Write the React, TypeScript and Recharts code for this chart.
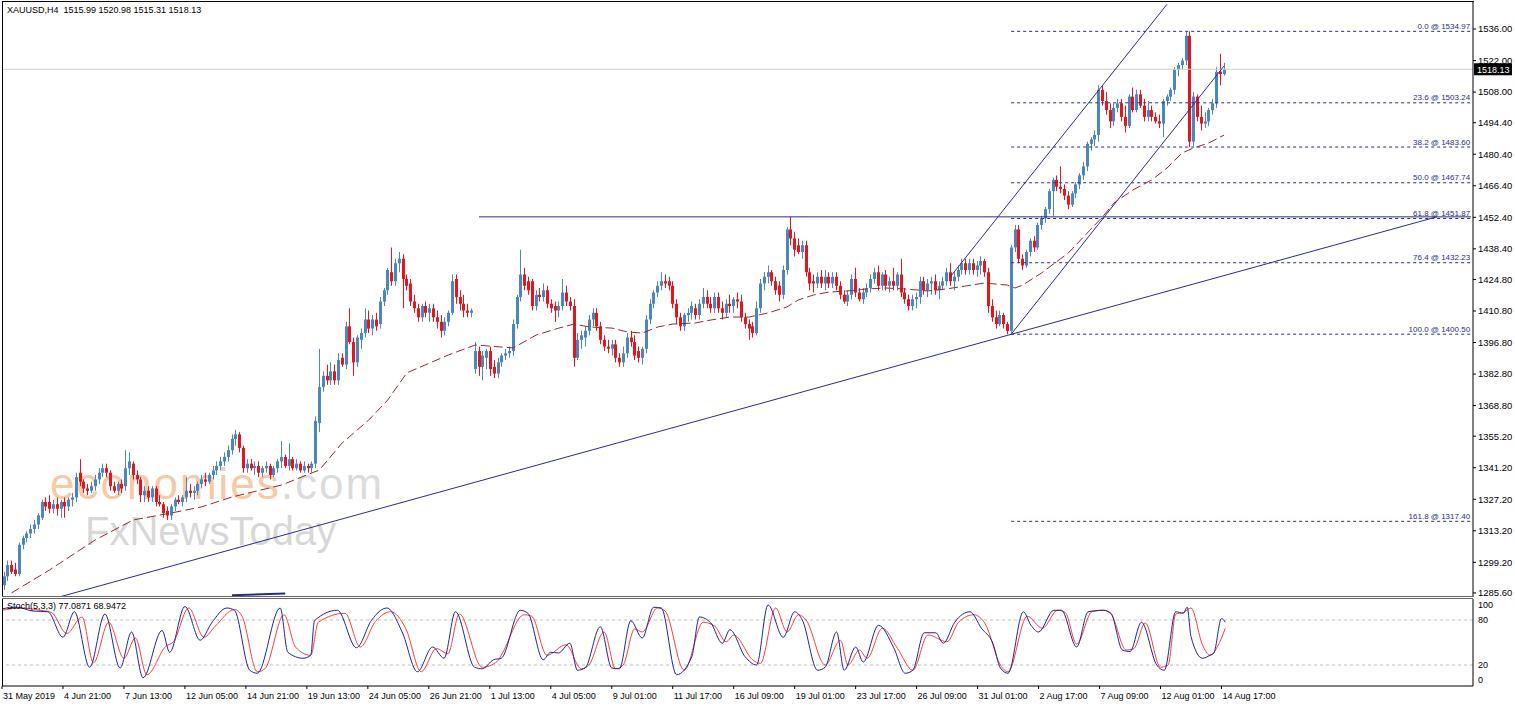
import React from 'react';
import { ComposedChart, Bar, Line, XAxis, YAxis, ReferenceLine } from 'recharts';

// H4 bars, [open, high, low, close]
const candles: number[][] = [
  [1289,1295,1287,1293],[1293,1300,1291,1298],[1298,1300,1294,1295],[1296,1299,1293,1294],[1294,1308,1293,1307],
  [1307,1311,1305,1310],[1310,1313,1308,1312],[1312,1316,1310,1314],[1314,1318,1312,1316],[1316,1321,1314,1320],
  [1319,1327,1318,1326],[1326,1328,1322,1324],[1326,1329,1321,1323],[1323,1327,1321,1325],[1325,1328,1320,1323],
  [1323,1327,1319,1326],[1326,1328,1319,1324],[1324,1328,1322,1327],[1327,1330,1324,1328],[1328,1339,1326,1337],
  [1339,1345,1333,1335],[1335,1336,1330,1332],[1332,1334,1329,1331],[1331,1335,1330,1333],[1333,1338,1331,1336],
  [1336,1341,1334,1339],[1339,1343,1337,1341],[1341,1343,1337,1339],[1339,1340,1331,1333],[1333,1335,1330,1331],
  [1331,1335,1329,1334],[1334,1336,1330,1332],[1333,1349,1331,1341],[1341,1348,1338,1344],[1343,1344,1336,1338],
  [1338,1340,1334,1336],[1336,1337,1326,1329],[1329,1333,1326,1331],[1331,1333,1326,1328],[1328,1333,1326,1332],
  [1332,1333,1324,1326],[1326,1329,1324,1325],[1325,1326,1319,1321],[1322,1324,1318,1320],[1320,1325,1318,1324],
  [1324,1328,1322,1327],[1327,1329,1325,1326],[1326,1329,1324,1328],[1328,1337,1326,1331],[1331,1334,1328,1330],
  [1330,1333,1327,1331],[1331,1335,1329,1334],[1334,1338,1332,1336],[1336,1339,1333,1335],[1335,1339,1334,1338],
  [1338,1342,1336,1340],[1340,1344,1338,1342],[1342,1346,1340,1344],[1344,1348,1342,1346],[1346,1351,1344,1349],
  [1349,1356,1347,1354],[1354,1358,1351,1356],[1356,1357,1348,1350],[1350,1351,1339,1341],[1341,1345,1339,1343],
  [1343,1345,1340,1341],[1341,1344,1338,1342],[1342,1344,1337,1339],[1339,1342,1337,1341],[1341,1344,1339,1342],
  [1342,1343,1336,1338],[1338,1342,1337,1341],[1341,1345,1339,1344],[1344,1353,1341,1346],[1346,1347,1341,1342],
  [1342,1352,1340,1345],[1345,1346,1340,1341],[1341,1345,1340,1343],[1343,1344,1339,1340],[1340,1344,1339,1342],
  [1342,1343,1339,1341],[1341,1344,1339,1343],[1343,1364,1341,1362],[1361,1394,1357,1377],[1377,1384,1375,1382],
  [1382,1387,1378,1380],[1380,1388,1378,1384],[1384,1387,1378,1380],[1380,1392,1378,1389],[1390,1392,1386,1387],
  [1387,1406,1385,1404],[1404,1412,1396,1397],[1397,1399,1382,1388],[1388,1400,1386,1399],[1398,1403,1394,1401],
  [1401,1412,1399,1407],[1407,1411,1401,1403],[1403,1409,1400,1407],[1407,1410,1402,1404],[1405,1417,1403,1415],
  [1415,1421,1413,1420],[1420,1430,1418,1429],[1428,1439,1422,1424],[1424,1434,1422,1432],[1432,1437,1428,1434],
  [1434,1436,1412,1425],[1425,1427,1420,1422],[1423,1425,1413,1415],[1415,1418,1410,1412],[1412,1414,1406,1408],
  [1408,1414,1406,1413],[1413,1415,1408,1410],[1410,1414,1406,1412],[1412,1414,1406,1408],[1408,1411,1403,1406],
  [1406,1409,1399,1402],[1402,1408,1400,1406],[1406,1411,1404,1410],[1410,1427,1409,1424],[1425,1427,1414,1417],
  [1417,1420,1411,1414],[1414,1418,1408,1411],[1411,1414,1408,1410],[1410,1412,1408,1411],[1385,1397,1383,1393],
  [1393,1395,1382,1386],[1386,1393,1380,1391],[1390,1394,1385,1393],[1393,1395,1382,1385],[1386,1389,1381,1383],
  [1383,1390,1381,1388],[1388,1392,1386,1391],[1391,1394,1389,1392],[1392,1395,1390,1393],[1393,1407,1391,1405],
  [1405,1418,1403,1417],[1417,1438,1415,1427],[1427,1430,1420,1422],[1424,1426,1418,1420],[1424,1425,1411,1413],
  [1413,1420,1411,1418],[1418,1421,1415,1417],[1417,1423,1415,1420],[1420,1422,1412,1414],[1414,1416,1410,1412],
  [1413,1415,1406,1411],[1411,1415,1408,1413],[1413,1425,1411,1419],[1419,1422,1413,1415],[1415,1417,1411,1413],
  [1413,1416,1386,1390],[1390,1401,1389,1398],[1398,1402,1394,1400],[1399,1404,1395,1402],[1402,1409,1400,1407],
  [1407,1412,1404,1410],[1410,1412,1402,1404],[1404,1406,1396,1398],[1398,1400,1393,1395],[1395,1398,1392,1394],
  [1394,1398,1391,1396],[1396,1398,1388,1390],[1390,1392,1386,1388],[1388,1395,1386,1392],[1392,1401,1390,1399],
  [1399,1402,1395,1397],[1397,1400,1389,1391],[1393,1395,1388,1390],[1390,1395,1387,1394],[1394,1409,1392,1407],
  [1407,1416,1405,1414],[1414,1420,1412,1419],[1419,1424,1417,1422],[1422,1428,1420,1424],[1424,1427,1421,1423],
  [1424,1426,1420,1422],[1422,1424,1412,1414],[1414,1416,1405,1408],[1408,1410,1402,1404],[1404,1410,1402,1409],
  [1409,1412,1406,1410],[1410,1415,1407,1413],[1412,1414,1407,1409],[1409,1416,1407,1414],[1414,1421,1412,1417],
  [1417,1420,1412,1414],[1414,1417,1410,1412],[1412,1419,1410,1417],[1417,1419,1410,1412],[1412,1415,1407,1410],
  [1410,1416,1408,1414],[1414,1418,1410,1413],[1413,1417,1410,1416],[1416,1419,1412,1415],[1415,1418,1406,1408],
  [1408,1410,1403,1405],[1405,1407,1398,1403],[1404,1406,1399,1401],[1401,1415,1400,1412],[1412,1425,1410,1423],
  [1423,1428,1420,1426],[1426,1431,1423,1428],[1428,1429,1422,1424],[1424,1426,1418,1420],[1422,1424,1415,1418],
  [1418,1431,1416,1429],[1429,1448,1427,1447],[1447,1452.6,1440,1443],[1443,1446,1435,1438],[1440,1443,1436,1437],
  [1437,1442,1434,1440],[1440,1442,1426,1428],[1428,1430,1420,1423],[1424,1427,1419,1423],[1423,1428,1421,1426],
  [1426,1429,1421,1423],[1423,1429,1420,1426],[1426,1428,1421,1423],[1423,1428,1421,1426],[1426,1428,1420,1422],
  [1422,1424,1416,1418],[1418,1420,1414,1415],[1415,1420,1413,1418],[1418,1427,1416,1425],[1425,1430,1417,1419],
  [1419,1421,1415,1416],[1416,1421,1414,1419],[1419,1423,1417,1421],[1421,1427,1419,1425],[1425,1430,1423,1428],
  [1428,1431,1420,1422],[1422,1428,1420,1427],[1427,1429,1420,1422],[1422,1426,1419,1424],[1424,1430,1420,1422],
  [1422,1428,1420,1427],[1427,1434,1417,1419],[1419,1421,1414,1416],[1416,1418,1411,1413],[1413,1418,1411,1416],
  [1416,1419,1412,1417],[1417,1426,1414,1424],[1424,1426,1418,1420],[1420,1425,1417,1423],[1423,1426,1418,1424],
  [1424,1427,1418,1420],[1420,1424,1416,1422],[1422,1426,1420,1424],[1424,1430,1422,1428],[1428,1432,1422,1424],
  [1424,1428,1420,1426],[1426,1431,1424,1429],[1429,1434,1427,1432],[1432,1434,1427,1429],[1429,1434,1427,1432],
  [1432,1434,1427,1429],[1429,1433,1426,1431],[1431,1435,1427,1433],[1433,1434,1426,1428],[1428,1430,1410,1413],
  [1413,1416,1406,1408],[1408,1411,1403,1405],[1405,1411,1404,1409],[1409,1410,1403,1405],[1405,1406,1400.5,1402],
  [1402,1440,1401,1439],[1439,1449,1437,1447],[1447,1449,1432,1434],[1434,1436,1429,1431],[1431,1438,1430,1437],
  [1437,1443,1435,1442],[1442,1444,1437,1439],[1439,1450,1438,1449],[1449,1453,1447,1452],[1452,1457,1450,1456],
  [1456,1465,1454,1464],[1464,1470,1453,1469],[1469,1471,1464,1466],[1466,1475,1463,1465],[1465,1467,1460,1462],
  [1462,1464,1456,1458],[1458,1464,1457,1463],[1463,1468,1461,1467],[1467,1472,1465,1471],[1471,1477,1469,1475],
  [1475,1486,1473,1485],[1485,1488,1482,1487],[1487,1491,1484,1489],[1489,1511,1486,1509],[1509,1511,1502,1504],
  [1504,1508,1498,1500],[1500,1503,1492,1495],[1495,1503,1493,1501],[1501,1505,1499,1503],[1503,1505,1495,1497],
  [1497,1502,1490,1493],[1493,1507,1492,1506],[1506,1510,1499,1500],[1500,1509,1499,1507],[1507,1509,1501,1502],
  [1502,1505,1495,1497],[1497,1504,1495,1500],[1500,1502,1495,1497],[1497,1499,1494,1495],[1495,1498,1492,1494],
  [1494,1505,1488,1504],[1504,1507,1502,1506],[1506,1510,1504,1509],[1509,1519,1507,1518],[1518,1521,1515,1520],
  [1520,1523,1518,1522],[1522,1535,1520,1533],[1533,1534.97,1483.6,1486],[1486,1508,1484,1506],[1506,1507,1495,1497],
  [1497,1502,1491,1494],[1494,1499,1492,1495],[1495,1501,1493,1500],[1500,1505,1498,1503],[1503,1519,1501,1517],
  [1517,1525,1511,1516],[1515.99,1520.98,1515.31,1518.13],
];

// dashed moving average, read at [bar, price]
const maPoints: number[][] = [
  [2,1285.6],[12,1295.8],[24,1309.1],[34,1318],[44,1321.1],[52,1323.8],[60,1328.2],[73,1333.5],[83,1340.2],
  [89,1352.2],[96,1362.4],[101,1371.3],[106,1383.3],[112,1387.7],[117,1391.3],[124,1395.7],[134,1394.4],
  [140,1400.1],[146,1403.2],[150,1405],[154,1403.7],[160,1403.2],[164,1401.5],[168,1401],[172,1403.7],
  [176,1405],[182,1405.5],[186,1406.8],[191,1408.1],[196,1408.1],[201,1409.9],[206,1412.6],[209,1415.7],
  [213,1417.9],[217,1419.2],[222,1419.7],[227,1420.6],[232,1421],[237,1420.6],[243,1419.7],[248,1420.6],
  [253,1421.9],[258,1423.2],[264,1422.3],[266,1421],[268,1422.3],[273,1427.7],[280,1436.5],[285,1445.4],
  [289,1452.5],[292,1458.7],[297,1464.5],[302,1469],[306,1474.3],[310,1481],[313,1483.2],[317,1485.4],[321,1488.9],
];

// Stoch(5,3,3) main and signal, read at turning points [bar, value]
const stochMain: number[][] = [
  [0,95],[4,97],[8,92],[12,91],[16,57],[19,91],[23,17],[27,88],[31,16],[34,64],[37,3],[42,66],[44,37],[48,98],
  [52,53],[55,76],[59,96],[61,93],[65,13],[67,9],[73,96],[75,37],[79,29],[81,33],[82,79],[88,93],[93,43],[97,80],
  [101,96],[105,64],[109,11],[113,44],[116,29],[119,91],[124,17],[126,15],[129,27],[131,29],[136,93],[138,89],
  [142,27],[144,37],[146,36],[149,49],[151,13],[153,16],[157,71],[160,16],[162,15],[165,79],[168,56],[171,97],
  [173,96],[177,7],[181,31],[183,84],[186,76],[189,49],[191,67],[195,31],[198,20],[201,100],[205,57],[208,91],
  [210,80],[214,13],[216,17],[219,64],[221,13],[224,44],[226,24],[230,73],[234,43],[237,9],[239,13],[242,63],
  [245,63],[247,49],[250,77],[254,91],[257,69],[260,49],[262,16],[264,9],[268,91],[270,73],[272,64],[276,93],
  [278,93],[282,44],[285,91],[289,93],[291,89],[294,40],[296,38],[299,77],[303,20],[305,13],[308,91],[310,89],
  [311,97],[312,58],[315,29],[317,33],[318,36],[320,82],[321,77.0871],
];
const stochSignal: number[][] = [
  [0,93],[5,96],[10,93],[13,90],[17,62],[21,84],[24,23],[28,77],[32,29],[35,56],[38,7],[43,45],[45,51],[49,96],
  [53,57],[56,72],[61,94],[63,85],[67,11],[69,15],[74,87],[77,44],[81,33],[83,77],[90,89],[94,44],[98,78],
  [102,91],[106,68],[110,11],[114,42],[117,35],[120,88],[126,17],[130,25],[131,33],[137,87],[139,85],[143,33],
  [148,47],[152,15],[154,20],[158,64],[161,15],[163,20],[166,68],[168,64],[172,96],[174,92],[179,13],[184,77],
  [187,72],[190,51],[192,60],[197,27],[199,22],[203,96],[206,64],[209,87],[211,80],[216,20],[220,53],[222,20],
  [225,40],[227,29],[231,69],[235,42],[239,13],[243,60],[248,51],[251,77],[255,87],[258,75],[262,20],[264,11],
  [269,85],[273,69],[277,93],[279,90],[282,48],[286,91],[289,93],[291,88],[295,40],[297,42],[300,76],[304,17],
  [306,20],[308,88],[310,90],[312,96],[315,47],[317,33],[319,45],[321,68.9472],
];

const priceTicks = [1536.0,1522.0,1508.0,1494.4,1480.4,1466.4,1452.4,1438.4,1424.8,1410.8,1396.8,1382.8,1368.8,1355.2,1341.2,1327.2,1313.2,1299.2,1285.6];
const stochTicks = [0, 20, 80, 100];
const xTickIdx = [0,16,32,48,64,80,96,112,128,144,160,176,192,208,224,240,256,272,288,304,320];
const xLabels = ['31 May 2019','4 Jun 21:00','7 Jun 13:00','12 Jun 05:00','14 Jun 21:00','19 Jun 13:00','24 Jun 05:00','26 Jun 21:00','1 Jul 13:00','4 Jul 05:00','9 Jul 01:00','11 Jul 17:00','16 Jul 09:00','19 Jul 01:00','23 Jul 17:00','26 Jul 09:00','31 Jul 01:00','2 Aug 17:00','7 Aug 09:00','12 Aug 01:00','14 Aug 17:00'];

// fibonacci retracement levels drawn from bar 265
const fibLevels: [string, number][] = [
  ['0.0', 1534.97],['23.6', 1503.24],['38.2', 1483.60],['50.0', 1467.74],['61.8', 1451.87],['76.4', 1432.23],['100.0', 1400.50],['161.8', 1317.40],
];
const fibStart = 265;
// trend lines [bar1, price1, bar2, price2]
const trendLines: number[][] = [
  [15, 1284.0, 377, 1452.6],
  [125, 1452.6, 386, 1452.6],
  [249, 1426.0, 306, 1547.0],
  [265, 1400.5, 321, 1519.6],
  [60, 1284.6, 74, 1285.4],
];
const bid = 1518.13;

const SLOTS = 387;
const BLUE = '#4a86c0';
const RED = '#e8141c';
const NAVY = '#2b2b8c';
const FONT = '"Liberation Sans", Arial, sans-serif';

const data = Array.from({ length: SLOTS }, (_, i) => {
  const c = candles[i];
  return {
    i,
    range: c ? [c[2], c[1]] : null,
    o: c ? c[0] : null,
    c: c ? c[3] : null,
    ma: null as number | null,
    sm: null as number | null,
    ss: null as number | null,
  };
});
maPoints.forEach(([i, v]) => { data[i].ma = v; });
stochMain.forEach(([i, v]) => { data[i].sm = v; });
stochSignal.forEach(([i, v]) => { data[i].ss = v; });

const Candle = (p: any) => {
  const { x, y, width, height, payload } = p;
  if (!payload || !payload.range) return null;
  const [lo, hi] = payload.range;
  const top = Math.min(y, y + height);
  const h = Math.abs(height);
  const k = hi > lo ? h / (hi - lo) : 0;
  const oy = top + (hi - payload.o) * k;
  const cy = top + (hi - payload.c) * k;
  const col = payload.c >= payload.o ? BLUE : RED;
  const cx = Math.round(x + width / 2) + 0.5;
  return (
    <g>
      <line x1={cx} x2={cx} y1={top} y2={top + h} stroke={col} strokeWidth={1} />
      <rect x={cx - 1.5} y={Math.min(oy, cy)} width={3} height={Math.max(1, Math.abs(oy - cy))} fill={col} />
    </g>
  );
};

const XTick = (p: any) => {
  const { x, y, payload } = p;
  const idx = xTickIdx.indexOf(payload.value);
  return (
    <text x={x + 1} y={y} dy={8} textAnchor="start" fontSize={9} fontFamily={FONT} fill="#000">
      {idx >= 0 ? xLabels[idx] : ''}
    </text>
  );
};

const BidLabel = (p: any) => {
  const vb = p.viewBox || {};
  const x = vb.x + vb.width + 1;
  const y = vb.y;
  return (
    <g>
      <rect x={x} y={y - 6} width={38} height={12} fill="#000" />
      <text x={x + 3} y={y + 3.5} fontSize={9} fontFamily={FONT} fill="#fff">{bid.toFixed(2)}</text>
    </g>
  );
};

const fibLabel = (name: string, v: number) => (p: any) => {
  const vb = p.viewBox || {};
  return (
    <text x={vb.x + vb.width - 1} y={vb.y - 2.5} textAnchor="end" fontSize={8} fontFamily={FONT} fill={NAVY}>
      {`${name} @ ${v.toFixed(2)}`}
    </text>
  );
};

export default function App() {
  const lastIdx = SLOTS - 1;
  return (
    <div style={{ position: 'absolute', left: 0, top: 0, width: 1515, height: 706, background: '#fff', overflow: 'hidden' }}>
      {/* watermark, behind the charts */}
      <svg width={1515} height={706} style={{ position: 'absolute', left: 0, top: 0, pointerEvents: 'none' }}>
        <text x={50} y={499} fontFamily={FONT} fontSize={44} letterSpacing={2}>
          <tspan fill="#f39a55" fillOpacity={0.55}>economies</tspan>
          <tspan fill="#bdbdbd" fillOpacity={0.55}>.com</tspan>
        </text>
        <text x={85} y={545} fontFamily={FONT} fontSize={40} letterSpacing={0} fill="#bdbdbd" fillOpacity={0.6}>
          FxNewsToday
        </text>
      </svg>
      <div style={{ position: 'absolute', left: 0, top: 0 }}>
        <ComposedChart width={1515} height={598} data={data} margin={{ top: 2, right: 0, bottom: 1, left: 2 }}>
          <XAxis dataKey="i" type="category" hide />
          <YAxis
            orientation="right"
            width={42}
            type="number"
            domain={[1283.8, 1548]}
            allowDataOverflow
            ticks={priceTicks}
            interval={0}
            tickFormatter={(v: number) => v.toFixed(2)}
            tickSize={3}
            tick={{ fontSize: 9.5, fill: '#000', fontFamily: FONT }}
            axisLine={{ stroke: '#000' }}
            tickLine={{ stroke: '#000' }}
          />
          <ReferenceLine y={bid} stroke="#cfcfcf" strokeWidth={1} label={BidLabel} />
          {fibLevels.map(([name, v]) => (
            <ReferenceLine
              key={name}
              segment={[{ x: fibStart, y: v }, { x: lastIdx, y: v }]}
              stroke={NAVY}
              strokeDasharray="3 3"
              label={fibLabel(name, v)}
            />
          ))}
          {trendLines.map((t, k) => (
            <ReferenceLine
              key={`t${k}`}
              segment={[{ x: t[0], y: t[1] }, { x: t[2], y: t[3] }]}
              stroke={NAVY}
              strokeWidth={k === 4 ? 2 : 1}
            />
          ))}
          <Bar dataKey="range" barSize={3} shape={Candle} isAnimationActive={false} />
          <Line dataKey="ma" type="linear" stroke="#8b2e2e" strokeWidth={1} strokeDasharray="9 4" dot={false} connectNulls isAnimationActive={false} />
        </ComposedChart>
      </div>
      <div style={{ position: 'absolute', left: 0, top: 599 }}>
        <ComposedChart width={1515} height={107} data={data} margin={{ top: 0, right: 0, bottom: 0, left: 2 }}>
          <XAxis
            dataKey="i"
            type="category"
            ticks={xTickIdx}
            interval={0}
            height={20}
            tickSize={3}
            tick={<XTick />}
            axisLine={{ stroke: '#000' }}
            tickLine={{ stroke: '#000' }}
          />
          <YAxis
            orientation="right"
            width={42}
            type="number"
            domain={[-8, 108]}
            allowDataOverflow
            ticks={stochTicks}
            interval={0}
            tickLine={false}
            tickSize={3}
            tick={{ fontSize: 9, fill: '#000', fontFamily: FONT }}
            axisLine={{ stroke: '#000' }}
          />
          <ReferenceLine y={80} stroke="#c0c0c0" strokeDasharray="3 3" />
          <ReferenceLine y={20} stroke="#c0c0c0" strokeDasharray="3 3" />
          <Line dataKey="ss" type="monotone" stroke="#f0413c" strokeWidth={1} dot={false} connectNulls isAnimationActive={false} />
          <Line dataKey="sm" type="monotone" stroke="#23238e" strokeWidth={1} dot={false} connectNulls isAnimationActive={false} />
        </ComposedChart>
      </div>
      {/* panel frames */}
      <div style={{ position: 'absolute', left: 2, top: 1, width: 1471, height: 595, borderLeft: '1px solid #000', borderTop: '1px solid #000', pointerEvents: 'none' }} />
      <div style={{ position: 'absolute', left: 2, top: 596, width: 1471, height: 1, borderTop: '1px solid #666', borderBottom: '1px solid #666', pointerEvents: 'none' }} />
      <div style={{ position: 'absolute', left: 2, top: 599, width: 1471, height: 87, borderLeft: '1px solid #000', pointerEvents: 'none' }} />
      {/* captions */}
      <div style={{ position: 'absolute', left: 7, top: 5, fontSize: 9, fontFamily: FONT, color: '#000', whiteSpace: 'pre' }}>
        {'XAUUSD,H4  1515.99 1520.98 1515.31 1518.13'}
      </div>
      <div style={{ position: 'absolute', left: 7, top: 601, fontSize: 9, fontFamily: FONT, color: '#000', whiteSpace: 'pre' }}>
        {'Stoch(5,3,3) 77.0871 68.9472'}
      </div>
    </div>
  );
}
